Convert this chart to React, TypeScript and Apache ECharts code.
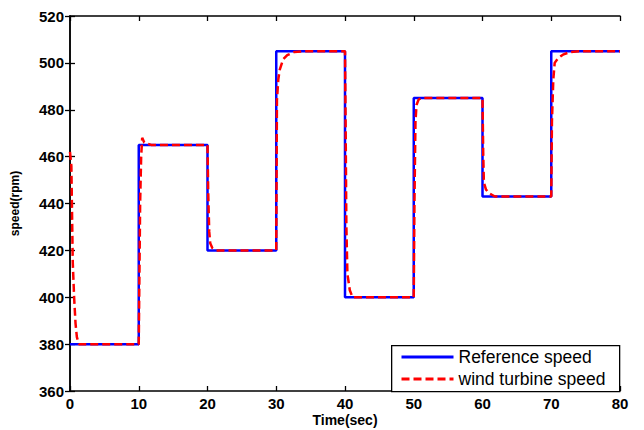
import React, { useEffect, useRef } from "react";
import * as echarts from "echarts";

const stepTimes = [0, 10, 20, 30, 40, 50, 60, 70, 80];
const stepLevels = [380, 465, 420, 505, 400, 485, 443, 505, 505];

const windTimes = [
  0, 0.2, 0.4, 0.6, 0.8, 1.0, 1.3,
  10, 10.1, 10.2, 10.35, 10.5, 10.8, 11.8,
  20, 20.1, 20.25, 20.4, 20.7, 21.3,
  30, 30.1, 30.3, 30.5, 31, 31.6, 32.6, 34,
  40, 40.1, 40.2, 40.35, 40.7, 41.1,
  50, 50.1, 50.25, 50.4, 50.7, 51.1,
  60, 60.1, 60.2, 60.5, 60.9, 61.8,
  70, 70.1, 70.3, 70.5, 71, 71.7, 72.7, 74,
  80,
];
const windValues = [
  462, 456, 415, 400, 389, 383, 380,
  380, 410, 440, 460, 468, 466, 465,
  465, 445, 428, 423, 421, 420,
  420, 484, 493, 497, 501.5, 503.3, 504.6, 505,
  505, 470, 430, 410, 403, 400,
  400, 440, 475, 482, 484.3, 485,
  485, 462, 449, 446, 444.5, 443,
  443, 475, 493, 500, 502, 503.5, 504.6, 505,
  505,
];

const xTicks = { min: 0, max: 80, interval: 10 };
const yTicks = { min: 360, max: 520, interval: 20 };
const seriesNames = ["Reference speed", "wind turbine speed"];

const FONT = "'Liberation Sans', Arial, sans-serif";

export default function App() {
  const ref = useRef<HTMLDivElement>(null);
  useEffect(() => {
    if (!ref.current) return;
    const chart = echarts.init(ref.current, undefined, { renderer: "svg" });
    const axisLine = { show: true, lineStyle: { color: "#000", width: 1.5 } };
    const axisTick = { show: true, inside: true, length: 5, lineStyle: { color: "#000", width: 1.3 } };
    const labelStyle = { color: "#000", fontSize: 15, fontWeight: "bold" as const, fontFamily: FONT };
    chart.setOption({
      animation: false,
      backgroundColor: "#fff",
      grid: { left: 70, right: 24, top: 16, bottom: 39, containLabel: false, outerBoundsMode: "none" },
      xAxis: [
        {
          type: "value",
          ...xTicks,
          position: "bottom",
          axisLine,
          axisTick,
          splitLine: { show: false },
          axisLabel: { ...labelStyle, margin: 5 },
          name: "Time(sec)",
          nameLocation: "middle",
          nameGap: 22,
          nameMoveOverlap: false,
          nameTextStyle: { color: "#000", fontSize: 14, fontWeight: "bold", fontFamily: FONT },
        },
        {
          type: "value",
          ...xTicks,
          position: "top",
          axisLine,
          axisTick,
          splitLine: { show: false },
          axisLabel: { show: false },
        },
      ],
      yAxis: [
        {
          type: "value",
          ...yTicks,
          position: "left",
          axisLine,
          axisTick,
          splitLine: { show: false },
          axisLabel: { ...labelStyle, margin: 6 },
          name: "speed(rpm)",
          nameLocation: "middle",
          nameGap: 49,
          nameRotate: 90,
          nameMoveOverlap: false,
          nameTextStyle: { color: "#000", fontSize: 12, fontWeight: "bold", fontFamily: FONT },
        },
        {
          type: "value",
          ...yTicks,
          position: "right",
          axisLine,
          axisTick,
          splitLine: { show: false },
          axisLabel: { show: false },
        },
      ],
      legend: {
        orient: "vertical",
        left: 400,
        top: 348,
        padding: 0,
        itemWidth: 52,
        itemHeight: 14,
        itemGap: 4,
        z: 10,
        itemStyle: { color: "rgba(0,0,0,0)", borderColor: "rgba(0,0,0,0)", borderWidth: 0 },
        lineStyle: { width: 3 },
        textStyle: { color: "#000", fontSize: 17.5, fontFamily: FONT, padding: [0, 0, 0, 0] },
        data: seriesNames,
      },
      graphic: [
        {
          type: "rect",
          left: 391,
          top: 345,
          shape: { width: 228, height: 46 },
          style: { fill: "#fff", stroke: "#000", lineWidth: 1.3 },
          z: 5,
        },
      ],
      series: [
        {
          name: seriesNames[0],
          type: "line",
          step: "end",
          symbol: "none",
          data: stepTimes.map((t, i) => [t, stepLevels[i]]),
          lineStyle: { color: "#0000ff", width: 2.5 },
          itemStyle: { color: "#0000ff" },
          z: 2,
        },
        {
          name: seriesNames[1],
          type: "line",
          symbol: "none",
          data: windTimes.map((t, i) => [t, windValues[i]]),
          lineStyle: { color: "#ff0000", width: 2.5, type: [8, 4] },
          itemStyle: { color: "#ff0000" },
          z: 3,
        },
      ],
    });
    return () => chart.dispose();
  }, []);
  return <div ref={ref} style={{ width: 644, height: 430, position: "absolute", left: 0, top: 0 }} />;
}
